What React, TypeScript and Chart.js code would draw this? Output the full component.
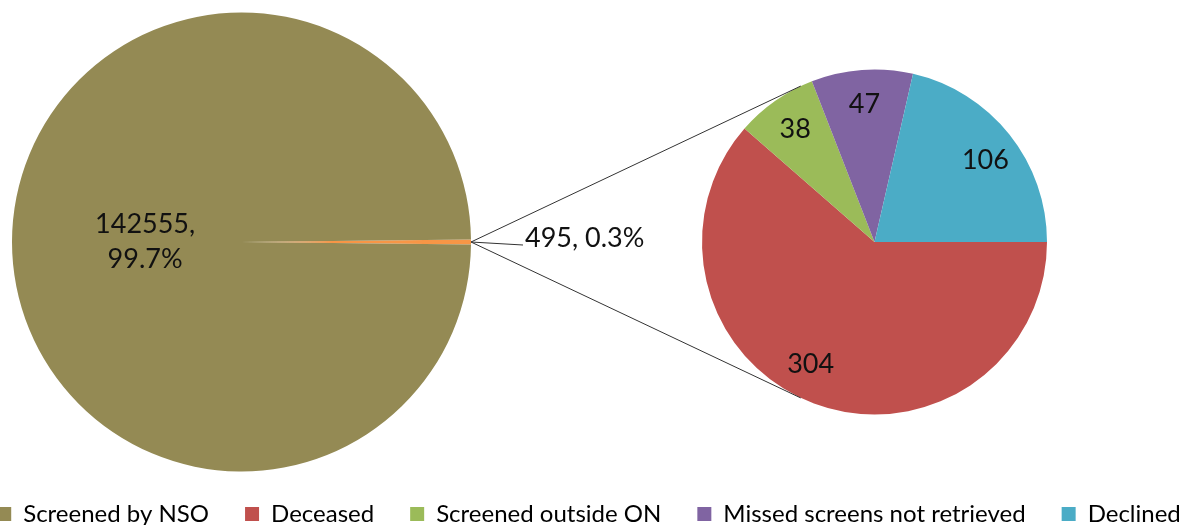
import React, { useEffect, useRef } from 'react';
import { Chart, registerables } from 'chart.js';

Chart.register(...registerables);

// ---- data ----
const mainCategories = ['Screened by NSO', 'Not screened by NSO'];
const mainValues = [142555, 495];
const subCategories = ['Deceased', 'Screened outside ON', 'Missed screens not retrieved', 'Declined'];
const subValues = [304, 38, 47, 106];
const legendCategories = ['Screened by NSO', 'Deceased', 'Screened outside ON', 'Missed screens not retrieved', 'Declined'];

// ---- styles ----
const mainColors = ['#948A54', '#F79646'];
const subColors = ['#C0504D', '#9BBB59', '#8064A2', '#4BACC6'];
const legendColors = ['#948A54', '#C0504D', '#9BBB59', '#8064A2', '#4BACC6'];

const W = 1196;
const H = 525;
const WIDE = 1600;
const SHIFT = (WIDE - W) / 2;
const NUDGE = -9; // legend horizontal nudge
const LEGEND_PAD = 36;
const FONT = 'Lato, Carlito, Calibri, sans-serif';
const TEXT = '#111111';
const LABEL_SIZE = 27;

const sum = (a: number[]) => a.reduce((s, v) => s + v, 0);

export default function App() {
  const mainRef = useRef<HTMLCanvasElement | null>(null);
  const subRef = useRef<HTMLCanvasElement | null>(null);

  useEffect(() => {
    if (!mainRef.current || !subRef.current) return;
    const total = sum(mainValues);
    const otherShare = mainValues[1] / total;
    const mainData = [mainValues[1], mainValues[0]];
    const offsetX = SHIFT - NUDGE;

    const placeMain = {
      id: 'placeMain',
      afterLayout(chart: any) {
        const left = offsetX + 12;
        const top = 12.5;
        const size = 459;
        chart.chartArea = { left, top, right: left + size, bottom: top + size, width: size, height: size };
      },
    };

    const mainLabel = {
      id: 'mainLabel',
      afterDatasetsDraw(chart: any) {
        const el = chart.getDatasetMeta(0).data[1];
        const p = el.getProps(['x', 'y', 'startAngle', 'endAngle', 'outerRadius'], true);
        const mid = (p.startAngle + p.endAngle) / 2;
        const lx = p.x + Math.cos(mid) * p.outerRadius * 0.42;
        const ly = p.y + Math.sin(mid) * p.outerRadius * 0.42;
        const ctx = chart.ctx;
        ctx.save();
        ctx.font = `${LABEL_SIZE}px ${FONT}`;
        ctx.fillStyle = TEXT;
        ctx.textAlign = 'center';
        ctx.textBaseline = 'middle';
        ctx.fillText(`${mainValues[0]},`, lx, ly - 17.5);
        ctx.fillText(`${((mainValues[0] / total) * 100).toFixed(1)}%`, lx, ly + 17.5);
        ctx.restore();
      },
    };

    const mainChart = new Chart(mainRef.current, {
      type: 'pie',
      data: {
        labels: [mainCategories[1], mainCategories[0]],
        datasets: [
          {
            data: mainData,
            backgroundColor: [mainColors[1], mainColors[0]],
            borderWidth: 0,
          },
        ],
      },
      options: {
        responsive: false,
        animation: false,
        rotation: 90 - (otherShare * 360) / 2,
        events: [],
        plugins: {
          tooltip: { enabled: false },
          legend: {
            display: true,
            position: 'bottom',
            maxHeight: 23 + LEGEND_PAD,
            labels: {
              font: { family: FONT, size: 24 },
              color: TEXT,
              boxWidth: 14,
              boxHeight: 14,
              padding: LEGEND_PAD,
              generateLabels: () =>
                legendCategories.map((t, i) => ({
                  text: t,
                  fillStyle: legendColors[i],
                  strokeStyle: 'rgba(0,0,0,0)',
                  lineWidth: 0,
                  hidden: false,
                  index: i,
                })),
            },
          },
        },
      },
      plugins: [placeMain, mainLabel],
    } as any);

    const subDecor = {
      id: 'subDecor',
      afterDatasetsDraw(chart: any) {
        const ctx = chart.ctx;
        const small = mainChart.getDatasetMeta(0).data[0] as any;
        const sp = small.getProps(['x', 'y', 'startAngle', 'endAngle', 'outerRadius'], true);
        const smid = (sp.startAngle + sp.endAngle) / 2;
        const tipX = sp.x + Math.cos(smid) * sp.outerRadius - offsetX;
        const tipY = sp.y + Math.sin(smid) * sp.outerRadius;

        const first = chart.getDatasetMeta(0).data[0];
        const fp = first.getProps(['x', 'y', 'outerRadius'], true);
        const cx = fp.x, cy = fp.y, r = fp.outerRadius;
        const d = Math.hypot(tipX - cx, tipY - cy);
        const base = Math.atan2(tipY - cy, tipX - cx);
        const t = Math.acos(r / d);

        ctx.save();
        ctx.strokeStyle = '#333333';
        ctx.lineWidth = 1;
        [base + t, base - t].forEach((a) => {
          ctx.beginPath();
          ctx.moveTo(tipX, tipY);
          ctx.lineTo(cx + Math.cos(a) * r, cy + Math.sin(a) * r);
          ctx.stroke();
        });
        // leader line to the "other" label
        ctx.beginPath();
        ctx.moveTo(tipX, tipY);
        ctx.lineTo(tipX + 52, tipY + 3);
        ctx.stroke();

        ctx.font = `${LABEL_SIZE}px ${FONT}`;
        ctx.fillStyle = TEXT;
        ctx.textBaseline = 'middle';
        ctx.textAlign = 'left';
        ctx.fillText(`${mainValues[1]}, ${(otherShare * 100).toFixed(1)}%`, tipX + 54, tipY - 4);

        ctx.textAlign = 'center';
        const tweak = [7, 0, 0, 2];
        chart.getDatasetMeta(0).data.forEach((el: any, i: number) => {
          const p = el.getProps(['x', 'y', 'startAngle', 'endAngle', 'outerRadius'], true);
          const mid = (p.startAngle + p.endAngle) / 2 + (tweak[i] * Math.PI) / 180;
          const lx = p.x + Math.cos(mid) * p.outerRadius * 0.8;
          const ly = p.y + Math.sin(mid) * p.outerRadius * 0.8;
          ctx.fillText(String(subValues[i]), lx, ly);
        });
        ctx.restore();
      },
    };

    const subChart = new Chart(subRef.current, {
      type: 'pie',
      data: {
        labels: subCategories,
        datasets: [
          {
            data: subValues,
            backgroundColor: subColors,
            borderWidth: 0,
          },
        ],
      },
      options: {
        responsive: false,
        animation: false,
        rotation: 90,
        events: [],
        layout: { padding: { left: 702, right: W - 1047, top: 69.5, bottom: H - 414.5 } },
        plugins: {
          tooltip: { enabled: false },
          legend: { display: false },
        },
      },
      plugins: [subDecor],
    } as any);

    return () => {
      subChart.destroy();
      mainChart.destroy();
    };
  }, []);

  return (
    <div style={{ position: 'absolute', left: 0, top: 0, width: W, height: H, overflow: 'hidden', background: '#fff' }}>
      <canvas ref={mainRef} width={WIDE} height={H} style={{ position: 'absolute', left: -SHIFT + NUDGE, top: 0 }} />
      <canvas ref={subRef} width={W} height={H} style={{ position: 'absolute', left: 0, top: 0 }} />
    </div>
  );
}
